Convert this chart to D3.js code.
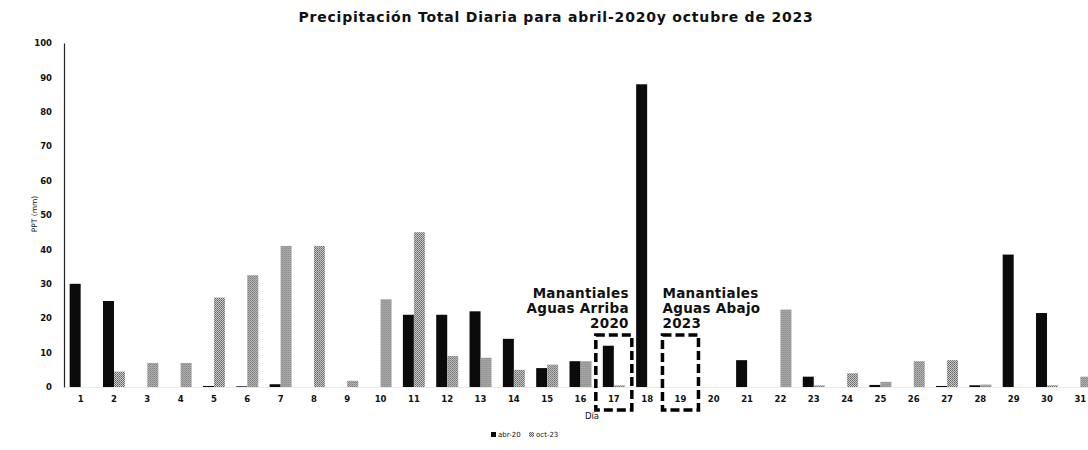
<!DOCTYPE html>
<html>
<head>
<meta charset="utf-8">
<script src="https://cdn.jsdelivr.net/npm/d3@7"></script>
<style>
  html, body { margin: 0; padding: 0; background: #fff; }
  svg { display: block; }
  text { font-family: "DejaVu Sans", sans-serif; fill: #111; }
</style>
</head>
<body>
<svg id="chart" width="1088" height="450"></svg>
<script>
const days = d3.range(1, 32).map(String);
const seriesNames = ["abr-20", "oct-23"];
const abr20 = [30, 25, 0, 0, 0.3, 0.2, 0.8, 0, 0, 0, 21, 21, 22, 14, 5.5, 7.5, 12, 88, 0, 0, 7.8, 0, 3, 0, 0.6, 0, 0.3, 0.5, 38.5, 21.5, 0];
const oct23 = [0, 4.5, 7, 7, 26, 32.5, 41, 41, 1.8, 25.5, 45, 9, 8.5, 5, 6.5, 7.5, 0.5, 0, 0, 0, 0, 22.5, 0.5, 4, 1.5, 7.5, 7.8, 0.7, 0, 0.5, 3];
const yTicks = [0, 10, 20, 30, 40, 50, 60, 70, 80, 90, 100];
const titleText = "Precipitación Total Diaria para abril-2020y octubre de 2023";
const annotations = [
  { day: "17", lines: ["Manantiales", "Aguas Arriba", "2020"], align: "end" },
  { day: "19", lines: ["Manantiales", "Aguas Abajo", "2023"], align: "start" }
];

const svg = d3.select("#chart");
const defs = svg.append("defs");
const pat = defs.append("pattern").attr("id", "dots").attr("width", 2).attr("height", 2)
  .attr("patternUnits", "userSpaceOnUse");
pat.append("rect").attr("width", 2).attr("height", 2).attr("fill", "#cfcfcf");
pat.append("rect").attr("x", 0).attr("y", 0).attr("width", 1).attr("height", 1).attr("fill", "#5e5e5e");
pat.append("rect").attr("x", 1).attr("y", 1).attr("width", 1).attr("height", 1).attr("fill", "#7a7a7a");

const x = d3.scaleBand().domain(days).range([64, 1097]).paddingInner(0.34).paddingOuter(0.17);
const xs = d3.scaleBand().domain(seriesNames).range([0, x.bandwidth()]);
const y = d3.scaleLinear().domain([0, 100]).range([387, 43]);
const fills = { "abr-20": "#0b0b0b", "oct-23": "url(#dots)" };
const values = { "abr-20": abr20, "oct-23": oct23 };

// title
svg.append("text").attr("x", 556).attr("y", 22).attr("text-anchor", "middle")
  .attr("font-weight", "bold").attr("font-size", 14).attr("letter-spacing", 0.8).text(titleText);

// y axis
const yAxis = svg.append("g").attr("transform", "translate(64,0)")
  .call(d3.axisLeft(y).tickValues(yTicks).tickSize(0).tickPadding(12));
yAxis.select(".domain").attr("stroke", "#222").attr("stroke-width", 1.2);
yAxis.selectAll("text").attr("font-size", 8.5).attr("font-weight", "bold")
  .style("font-family", "DejaVu Sans, sans-serif");

// x axis
const xAxis = svg.append("g").attr("transform", "translate(0,387)")
  .call(d3.axisBottom(x).tickSize(0).tickPadding(9));
xAxis.select(".domain").attr("stroke", "#ddd").attr("stroke-width", 0.6);
xAxis.selectAll("text").attr("font-size", 8.5).attr("font-weight", "bold")
  .style("font-family", "DejaVu Sans, sans-serif");

// bars
const groups = svg.append("g").selectAll("g").data(days).join("g")
  .attr("transform", d => `translate(${x(d)},0)`);
groups.selectAll("rect").data((d, i) => seriesNames.map(s => ({ s, v: values[s][i] })))
  .join("rect")
  .attr("x", d => xs(d.s))
  .attr("width", xs.bandwidth())
  .attr("y", d => y(d.v))
  .attr("height", d => y(0) - y(d.v))
  .attr("fill", d => fills[d.s]);

// y axis label
svg.append("text").attr("transform", "translate(37,214) rotate(-90)").attr("text-anchor", "middle")
  .attr("font-size", 7.5).text("PPT (mm)");

// annotations
annotations.forEach(a => {
  const cx = x(a.day) + x.bandwidth() / 2;
  const rx = cx - 18, rw = 36, ry = 335, rh = 75;
  svg.append("rect").attr("x", rx).attr("y", ry).attr("width", rw).attr("height", rh)
    .attr("fill", "none").attr("stroke", "#000").attr("stroke-width", 3.5)
    .attr("stroke-dasharray", "9,4");
  const tx = a.align === "end" ? rx + rw - 3 : rx;
  a.lines.forEach((l, k) => {
    svg.append("text").attr("x", tx).attr("y", 298 + k * 15).attr("text-anchor", a.align)
      .attr("font-weight", "bold").attr("font-size", 13.5).attr("letter-spacing", 0.3).text(l);
  });
});

// x axis label
svg.append("text").attr("x", 592).attr("y", 419).attr("text-anchor", "middle")
  .attr("font-size", 8.5).text("Día");

// legend
const lg = svg.append("g").attr("transform", "translate(491,437)");
seriesNames.forEach((s, i) => {
  const g = lg.append("g").attr("transform", `translate(${i * 38},0)`);
  g.append("rect").attr("x", 0).attr("y", -5).attr("width", 5).attr("height", 5).attr("fill", fills[s]);
  g.append("text").attr("x", 7).attr("y", 0).attr("font-size", 7).text(s);
});
</script>
</body>
</html>
